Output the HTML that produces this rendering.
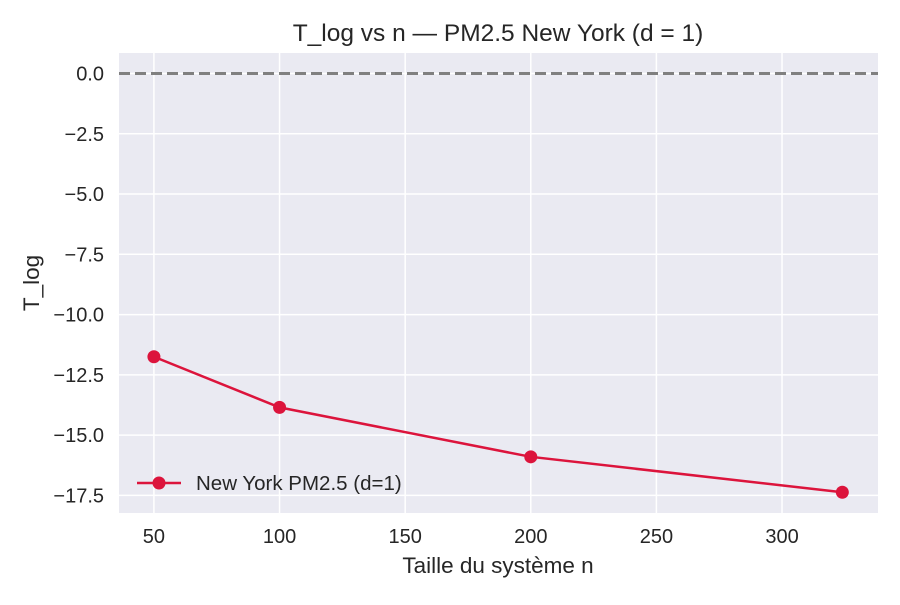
<!DOCTYPE html>
<html><head><meta charset="utf-8"><style>
body{margin:0;background:#fff;font-family:"Liberation Sans",sans-serif}
</style></head><body>
<svg id="chart" width="900" height="600" xmlns="http://www.w3.org/2000/svg" font-family="Liberation Sans, sans-serif">
<rect x="119" y="53" width="759" height="460" fill="#eaeaf2"/>
<g id="grid"></g>
<g id="ticks"></g>
<line x1="119" x2="878" id="zero" stroke="#808080" stroke-width="3" stroke-dasharray="11,5"/>
<g id="series"></g>
<text x="498" y="41" text-anchor="middle" font-size="24.5" fill="#262626">T_log vs n — PM2.5 New York (d = 1)</text>
<text x="498" y="573" text-anchor="middle" font-size="22.5" fill="#262626">Taille du système n</text>
<text transform="translate(39,283) rotate(-90)" text-anchor="middle" font-size="22.5" fill="#262626">T_log</text>
<g>
<line x1="137" x2="181" y1="483" y2="483" stroke="#dc143c" stroke-width="2.5"/>
<circle cx="159" cy="483" r="6.5" fill="#dc143c"/>
<text x="196" y="490" font-size="20.5" fill="#262626">New York PM2.5 (d=1)</text>
</g>
</svg>
<script>
const nValues=[50,100,200,324];
const tlogValues=[-11.75,-13.85,-15.9,-17.37];
const xTicks=[50,100,150,200,250,300];
const yTicks=[0,-2.5,-5,-7.5,-10,-12.5,-15,-17.5];
const NS="http://www.w3.org/2000/svg";
const X0=119,X1=878,Y0=53,Y1=513,xmin=36.1,xmax=338.2,ymin=-18.23,ymax=0.85;
const sx=v=>X0+(v-xmin)/(xmax-xmin)*(X1-X0);
const sy=v=>Y1-(v-ymin)/(ymax-ymin)*(Y1-Y0);
function mk(t,a,p){const e=document.createElementNS(NS,t);for(const k in a)e.setAttribute(k,a[k]);p.appendChild(e);return e;}
const grid=document.getElementById('grid'),ticks=document.getElementById('ticks');
xTicks.forEach(v=>{
 const l=mk('line',{x1:sx(v),x2:sx(v),y1:Y0,y2:Y1,stroke:'#fff','stroke-width':1.5},grid);
 
 
 const t=mk('text',{x:sx(v),y:Y1+30,'text-anchor':'middle','font-size':20,fill:'#262626'},ticks);
 t.textContent=v;
 
 
});
yTicks.forEach(v=>{
 const l=mk('line',{x1:X0,x2:X1,y1:sy(v),y2:sy(v),stroke:'#fff','stroke-width':1.5},grid);
 
 
 const t=mk('text',{x:X0-15,y:sy(v)+7,'text-anchor':'end','font-size':20,fill:'#262626'},ticks);
 t.textContent=(v<0?'\u2212':'')+Math.abs(v).toFixed(1);
 
 
});
const z=document.getElementById('zero');z.setAttribute('y1',sy(0));z.setAttribute('y2',sy(0));
const s=document.getElementById('series');
const pl=mk('polyline',{points:nValues.map((n,i)=>sx(n)+','+sy(tlogValues[i])).join(' '),fill:'none',stroke:'#dc143c','stroke-width':2.5},s);


nValues.forEach((n,i)=>{
 const c=mk('circle',{cx:sx(n),cy:sy(tlogValues[i]),r:6.5,fill:'#dc143c'},s);
 
 
});
</script>
</body></html>
